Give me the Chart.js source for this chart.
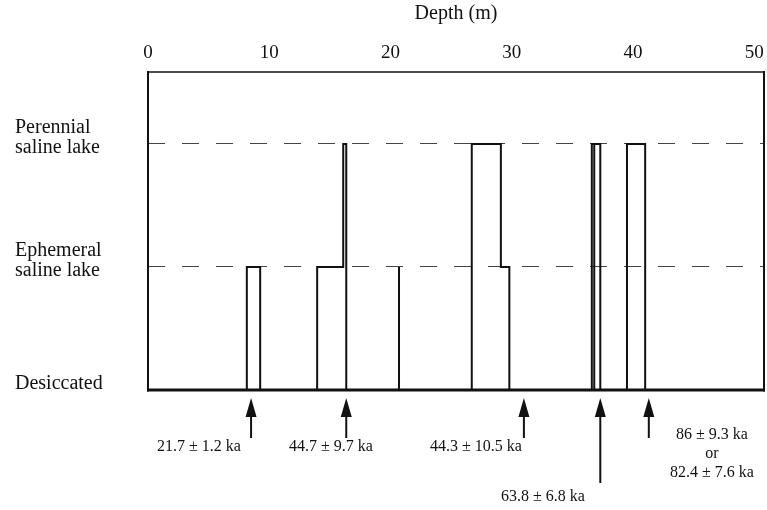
<!DOCTYPE html>
<html>
<head>
<meta charset="utf-8">
<script src="https://cdn.jsdelivr.net/npm/chart.js@4.4.0/dist/chart.umd.min.js"></script>
<style>
  html, body { margin: 0; padding: 0; background: #fff; }
  #wrap { width: 767px; height: 510px; }
</style>
</head>
<body>
<div id="wrap"><canvas id="chart"></canvas></div>
<script>
// depth (m) / environment level outline
const depths = [0, 8.15, 8.15, 9.25, 9.25, 13.95, 13.95, 16.1, 16.1, 16.35, 16.35, 20.7, 20.7, 20.7,
                26.7, 26.7, 29.1, 29.1, 29.8, 29.8, 36.6, 36.6, 36.8, 36.8, 36.8, 37.3, 37.3,
                39.5, 39.5, 41.0, 41.0, 50.8];
const levels = [0, 0, 1, 1, 0, 0, 1, 1, 2, 2, 0, 0, 1, 0,
                0, 2, 2, 1, 1, 0, 0, 2, 2, 0, 2, 2, 0,
                0, 2, 2, 0, 0];
const levelNames = ['Desiccated', ['Ephemeral', 'saline lake'], ['Perennial', 'saline lake']];
const depthTicks = [0, 10, 20, 30, 40, 50];

// dated samples (arrows under the axis)
const sampleDepths = [8.5, 16.35, 31.0, 37.3, 41.3];
const ageLabels = [['21.7 ± 1.2 ka'], ['44.7 ± 9.7 ka'], ['44.3 ± 10.5 ka'], ['63.8 ± 6.8 ka'],
                   ['86 ± 9.3 ka', 'or', '82.4 ± 7.6 ka']];

const serif = '"Liberation Serif", "Times New Roman", serif';
const ink = '#111';

let points = [];
for (let i = 0; i < depths.length; i++) {
    points.push({x: depths[i], y: levels[i]});
}

const frame = {
    id: 'frame',
    afterDatasetsDraw(chart) {
        const ctx = chart.ctx;
        const a = chart.chartArea;
        const seg = (x1, y1, x2, y2, w) => {
            ctx.lineWidth = w;
            ctx.beginPath();
            ctx.moveTo(x1, y1);
            ctx.lineTo(x2, y2);
            ctx.stroke();
        };
        ctx.save();
        ctx.strokeStyle = ink;
        seg(a.left, a.top, a.right, a.top, 1.5);
        seg(a.left, a.top - 1, a.left, a.bottom + 1.5, 2);
        seg(a.right, a.top - 1, a.right, a.bottom + 1.5, 2);
        seg(a.left - 1, a.bottom, a.right + 1, a.bottom, 3);
        ctx.restore();
    }
};

// arrow tails and text placement (pixels, layout only)
const arrowTail = [438, 438, 438, 483, 438];
const textX = [199, 331, 476, 543, 712];
const textY = [447, 447, 447, 497, 435];

const ages = {
    id: 'ages',
    afterDraw(chart) {
        const ctx = chart.ctx;
        const xs = chart.scales.x;
        const tip = chart.chartArea.bottom + 8;
        ctx.save();
        ctx.fillStyle = ink;
        ctx.strokeStyle = ink;
        ctx.font = '16px ' + serif;
        ctx.textAlign = 'center';
        ctx.textBaseline = 'middle';
        sampleDepths.forEach((d, i) => {
            const px = xs.getPixelForValue(d);
            ctx.lineWidth = 2;
            ctx.beginPath();
            ctx.moveTo(px, tip + 15);
            ctx.lineTo(px, arrowTail[i]);
            ctx.stroke();
            ctx.beginPath();
            ctx.moveTo(px, tip);
            ctx.lineTo(px - 5.5, tip + 19);
            ctx.lineTo(px + 5.5, tip + 19);
            ctx.closePath();
            ctx.fill();
            ageLabels[i].forEach((t, j) => {
                ctx.fillText(t, textX[i], textY[i] + j * 19);
            });
        });
        ctx.restore();
    }
};

const config = {
    type: 'line',
    data: {
        datasets: [{
            data: points,
            borderColor: ink,
            borderWidth: 2,
            pointRadius: 0,
            tension: 0,
            fill: false,
        }]
    },
    options: {
        responsive: true,
        maintainAspectRatio: false,
        animation: false,
        devicePixelRatio: 1,
        layout: {
            padding: {left: 15, right: 3, top: 0, bottom: 120}
        },
        plugins: {
            legend: {display: false},
            tooltip: {enabled: false},
        },
        scales: {
            x: {
                type: 'linear',
                position: 'top',
                min: 0,
                max: 50.8,
                afterBuildTicks: (s) => { s.ticks = depthTicks.map(v => ({value: v})); },
                afterFit: (s) => {
                    s.height = 72;
                    s.paddingLeft = 0;
                    s.paddingRight = 0;
                },
                grid: {display: false, drawTicks: false},
                border: {display: false},
                ticks: {
                    padding: 8,
                    color: ink,
                    font: {family: serif, size: 19},
                    maxRotation: 0,
                    callback: (v) => String(v),
                },
                title: {
                    display: true,
                    text: 'Depth (m)',
                    color: ink,
                    font: {family: serif, size: 20},
                    padding: {top: 2, bottom: 0},
                },
            },
            y: {
                type: 'linear',
                min: 0,
                max: 2.585,
                afterBuildTicks: (s) => { s.ticks = [0, 1, 2].map(v => ({value: v})); },
                afterFit: (s) => {
                    s.width = 133;
                    s.paddingTop = 0;
                    s.paddingBottom = 0;
                },
                grid: {
                    color: '#444',
                    lineWidth: 1,
                    drawTicks: false,
                },
                border: {display: false, dash: [17, 17]},
                ticks: {
                    crossAlign: 'far',
                    labelOffset: -6,
                    padding: 0,
                    color: ink,
                    font: {family: serif, size: 20, lineHeight: 1.0},
                    callback: (v) => levelNames[v],
                },
            },
        },
    },
    plugins: [frame, ages],
};

new Chart(document.getElementById('chart'), config);
</script>
</body>
</html>
